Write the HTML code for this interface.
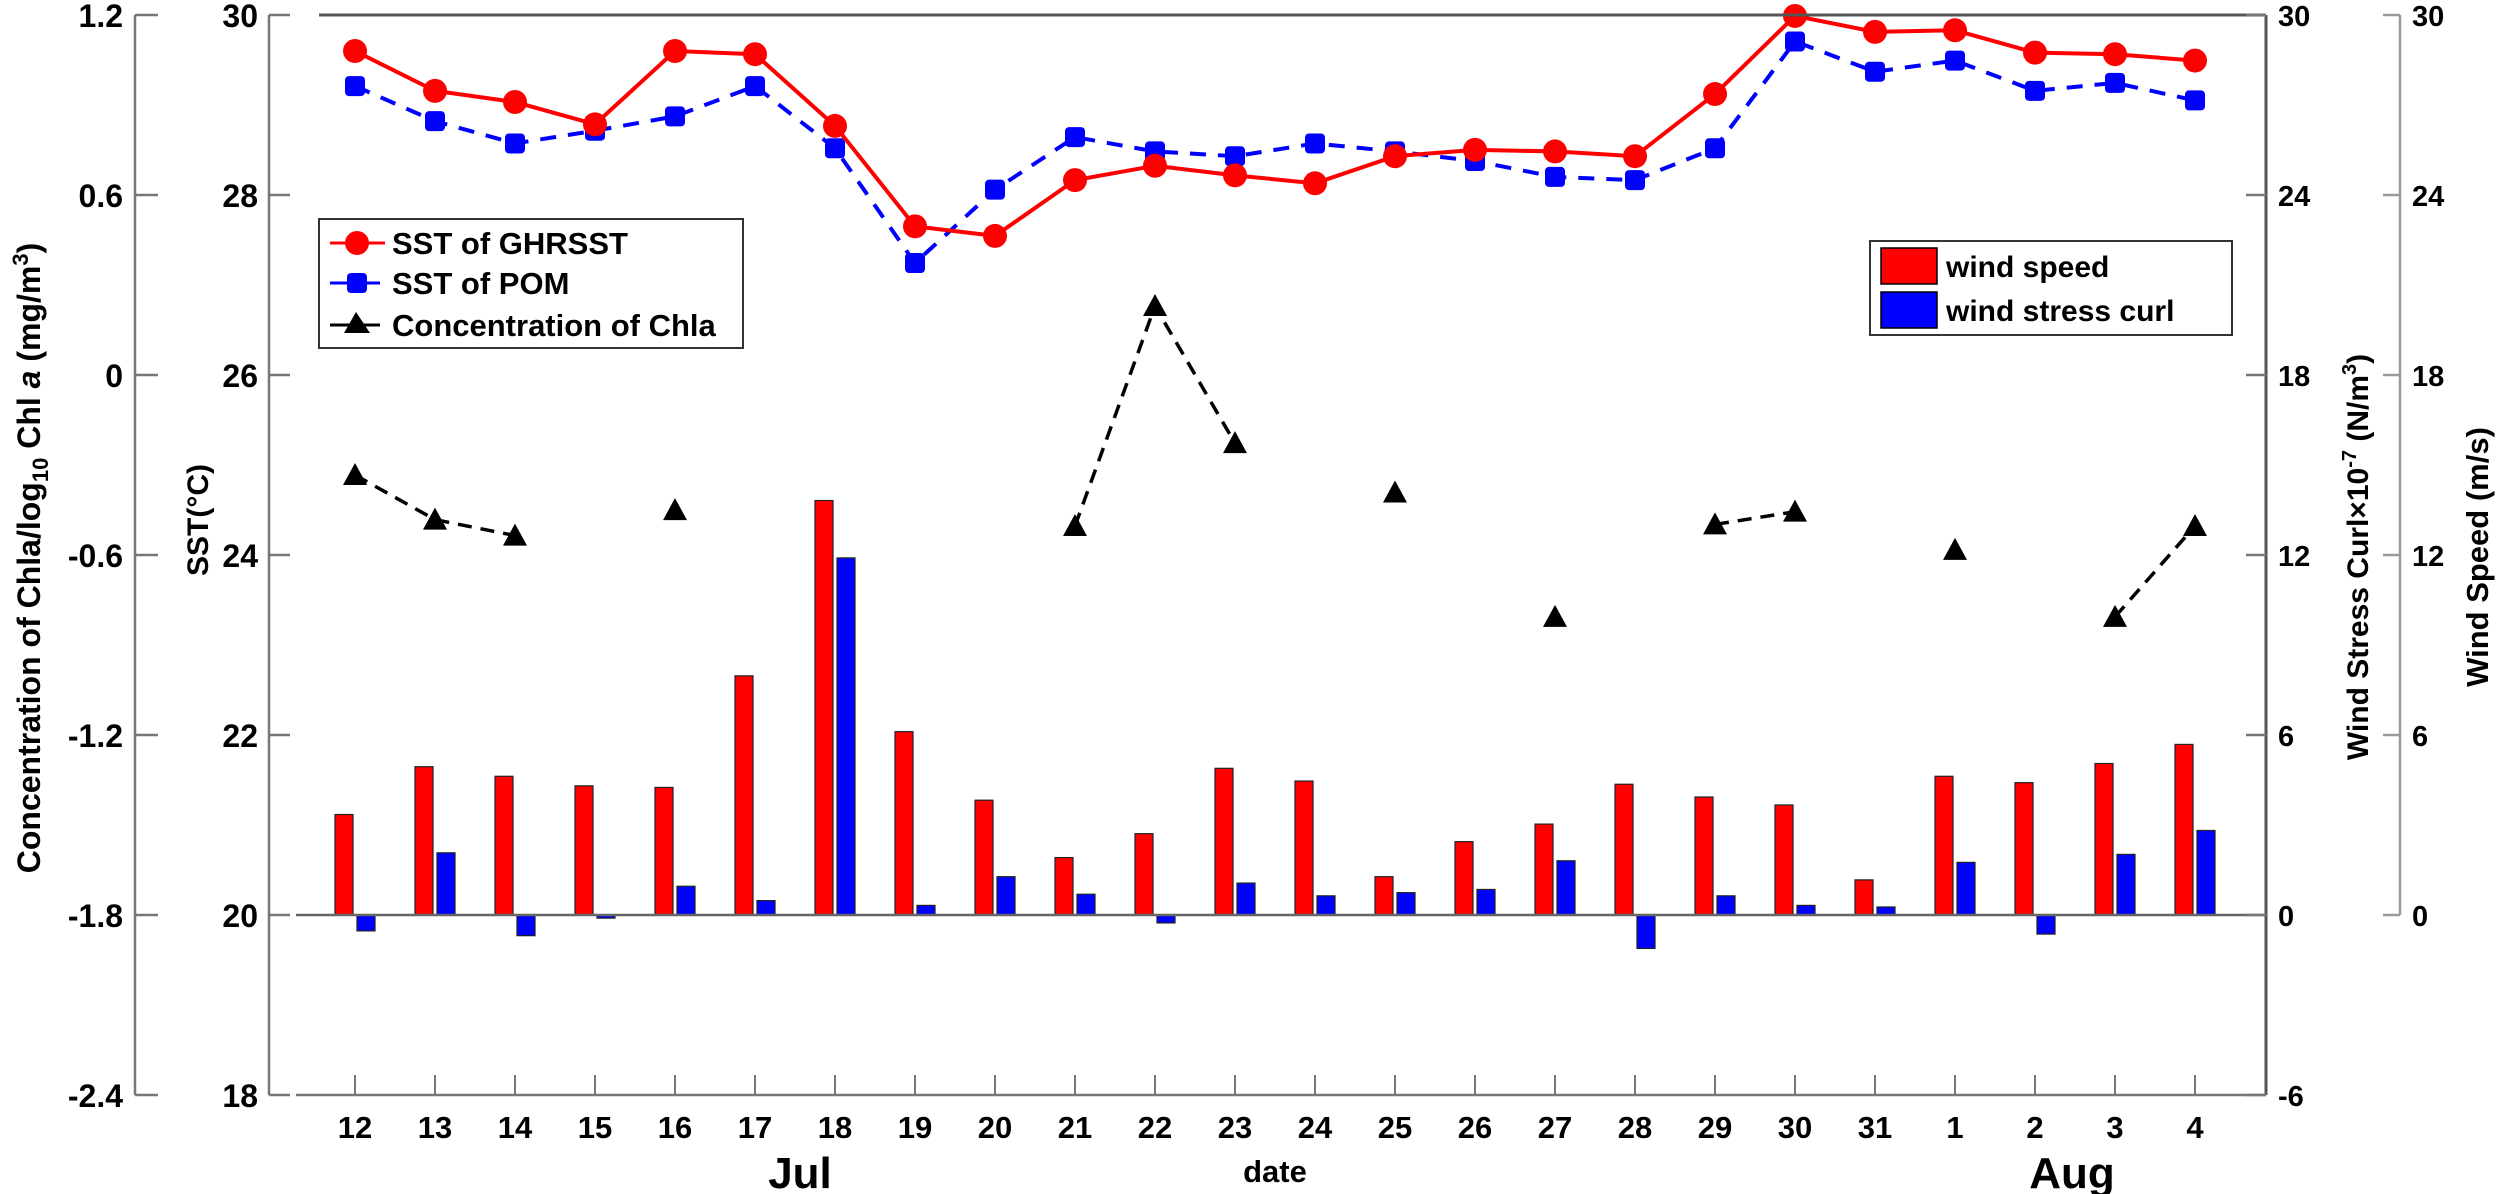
<!DOCTYPE html>
<html><head><meta charset="utf-8">
<style>
html,body{margin:0;padding:0;background:#fff;}
svg{display:block;font-family:"Liberation Sans",Arial,sans-serif;}
</style></head>
<body>
<svg id="s" width="2500" height="1194" viewBox="0 0 2500 1194" xmlns="http://www.w3.org/2000/svg">
<rect width="2500" height="1194" fill="#fff"/>
<g id="g"></g>
<g stroke="#777" stroke-width="2.5" fill="none">
<line x1="135" y1="15" x2="135" y2="1095"/>
<line x1="269" y1="15" x2="269" y2="1095"/>
<line x1="319" y1="15" x2="2266" y2="15" stroke="#555" stroke-width="3"/>
<line x1="296" y1="1095" x2="2266" y2="1095"/>
<line x1="2266" y1="15" x2="2266" y2="1095" stroke="#555" stroke-width="3"/>
<line x1="2400" y1="15" x2="2400" y2="915" stroke="#999"/>
</g>
<g id="ax"></g>
<rect x="319" y="219" width="424" height="129" fill="#fff" stroke="#333" stroke-width="2"/>
<line x1="330" y1="243" x2="385" y2="243" stroke="#f00" stroke-width="3"/>
<circle cx="357" cy="243" r="12" fill="#f00"/>
<line x1="330" y1="283" x2="380" y2="283" stroke="#00f" stroke-width="3"/>
<rect x="347" y="273" width="20" height="20" rx="4" fill="#00f"/>
<line x1="330" y1="325" x2="380" y2="325" stroke="#000" stroke-width="3"/>
<polygon points="344,333 356,312 370,333" fill="#000"/>
<g font-size="31" font-weight="bold" fill="#000">
<text x="392" y="254">SST of GHRSST</text>
<text x="392" y="294">SST of POM</text>
<text x="392" y="336">Concentration of Chla</text>
</g>
<rect x="1870" y="241" width="362" height="94" fill="#fff" stroke="#333" stroke-width="2"/>
<rect x="1881" y="248" width="56" height="36" fill="#f00" stroke="#000" stroke-width="1.5"/>
<rect x="1881" y="292" width="56" height="36" fill="#00f" stroke="#000" stroke-width="1.5"/>
<g font-size="30" font-weight="bold" fill="#000">
<text x="1946" y="277">wind speed</text>
<text x="1946" y="321">wind stress curl</text>
</g>
<text transform="translate(40,558) rotate(-90)" text-anchor="middle" font-size="32" font-weight="bold">Concentration of Chla/log<tspan font-size="22" dy="8">10</tspan><tspan dy="-8"> Chl </tspan><tspan font-style="italic">a</tspan>  (mg/m<tspan font-size="22" dy="-12">3</tspan><tspan dy="12">)</tspan></text>
<text transform="translate(208,520) rotate(-90)" text-anchor="middle" font-size="30" font-weight="bold">SST(°C)</text>
<text transform="translate(2368,557) rotate(-90)" text-anchor="middle" font-size="30" font-weight="bold">Wind Stress Curl×10<tspan font-size="20" dy="-12">-7</tspan><tspan dy="12"> (N/m</tspan><tspan font-size="20" dy="-12">3</tspan><tspan dy="12">)</tspan></text>
<text transform="translate(2488,557) rotate(-90)" text-anchor="middle" font-size="31" font-weight="bold">Wind Speed (m/s)</text>
<text x="1275" y="1182" text-anchor="middle" font-size="31" font-weight="bold">date</text>
<text x="800" y="1188" text-anchor="middle" font-size="44" font-weight="bold">Jul</text>
<text x="2072" y="1188" text-anchor="middle" font-size="44" font-weight="bold">Aug</text>
</svg>
<script>
var NS="http://www.w3.org/2000/svg";
var g=document.getElementById("g"),ax=document.getElementById("ax");
function el(p,t,a,txt){var e=document.createElementNS(NS,t);for(var k in a)e.setAttribute(k,a[k]);if(txt!=null)e.textContent=txt;p.appendChild(e);return e;}
var S=1.594;
function X(i){return 355+80*i;}
var labels=[12,13,14,15,16,17,18,19,20,21,22,23,24,25,26,27,28,29,30,31,1,2,3,4];
var red=[511,481,487,493,494,424,314,459,502,538,523,482,490,550,528,517,492,500,505,552,487,491,479,467];
var blue=[584,535,587,576,556,565,350,568,550,561,579,554,562,560,558,540,595,562,568,569,541,586,536,521];
var gh=[32,57,64,78,32,34,79,142,148,113,104,110,115,98,94,95,98,59,10,20,19,33,34,38];
var pom=[54,76,90,82,73,54,93,165,119,86,95,98,90,95,101,111,113,93,26,45,38,57,52,63];
var chl={0:298,1:326,2:336,4:320,9:330,10:192,11:278,13:309,15:387,17:329,18:321,20:345,22:387,23:330};
var Z=915;
for(var i=0;i<24;i++){
 var c=X(i),ry=red[i]*S;
 el(g,"rect",{x:c-20,y:ry,width:18,height:Z-ry,fill:"#f00",stroke:"#222","stroke-width":1.2});
 var by=blue[i]*S;
 var y0=Math.min(by,Z),h=Math.abs(Z-by);if(h<2)h=2;
 el(g,"rect",{x:c+2,y:y0,width:18,height:h,fill:"#00f",stroke:"#222","stroke-width":1.2});
}
el(g,"line",{x1:296,y1:Z,x2:2266,y2:Z,stroke:"#666","stroke-width":2.5});
for(var i=0;i<24;i++){
 el(g,"line",{x1:X(i),y1:1075,x2:X(i),y2:1095,stroke:"#777","stroke-width":2});
 el(ax,"text",{x:X(i),y:1138,"text-anchor":"middle","font-size":31,"font-weight":"bold"},labels[i]);
}
var segs=[[0,1,2],[9,10,11],[17,18],[22,23]];
segs.forEach(function(s){var p=s.map(function(i){return X(i)+","+(chl[i]*S);}).join(" ");
 el(g,"polyline",{points:p,fill:"none",stroke:"#000","stroke-width":3.5,"stroke-dasharray":"14,9"});});
for(var k in chl){var x=X(+k),y=chl[k]*S;el(g,"polygon",{points:(x-12)+","+(y+10)+" "+x+","+(y-12)+" "+(x+12)+","+(y+10),fill:"#000"});}
var pp=pom.map(function(v,i){return X(i)+","+(v*S);}).join(" ");
el(g,"polyline",{points:pp,fill:"none",stroke:"#00f","stroke-width":4,"stroke-dasharray":"16,12"});
pom.forEach(function(v,i){el(g,"rect",{x:X(i)-10,y:v*S-10,width:20,height:20,rx:4,fill:"#00f"});});
var gp=gh.map(function(v,i){return X(i)+","+(v*S);}).join(" ");
el(g,"polyline",{points:gp,fill:"none",stroke:"#f00","stroke-width":4});
gh.forEach(function(v,i){el(g,"circle",{cx:X(i),cy:v*S,r:12,fill:"#f00"});});
var chlL=["1.2","0.6","0","-0.6","-1.2","-1.8","-2.4"],sstL=["30","28","26","24","22","20","18"],rL=["30","24","18","12","6","0","-6"];
for(var j=0;j<7;j++){var y=15+180*j;
 el(ax,"line",{x1:135,y1:y,x2:158,y2:y,stroke:"#777","stroke-width":2.5});
 el(ax,"line",{x1:269,y1:y,x2:290,y2:y,stroke:"#777","stroke-width":2.5});
 el(ax,"line",{x1:2246,y1:y,x2:2266,y2:y,stroke:"#777","stroke-width":2.5});
 el(ax,"text",{x:123,y:y+12,"text-anchor":"end","font-size":32,"font-weight":"bold"},chlL[j]);
 el(ax,"text",{x:258,y:y+12,"text-anchor":"end","font-size":32,"font-weight":"bold"},sstL[j]);
 el(ax,"text",{x:2278,y:y+11,"font-size":29,"font-weight":"bold"},rL[j]);
 if(j<6){el(ax,"line",{x1:2383,y1:y,x2:2400,y2:y,stroke:"#999","stroke-width":2.5});
 el(ax,"text",{x:2412,y:y+11,"font-size":29,"font-weight":"bold"},rL[j]);}
}
</script>
</body></html>
